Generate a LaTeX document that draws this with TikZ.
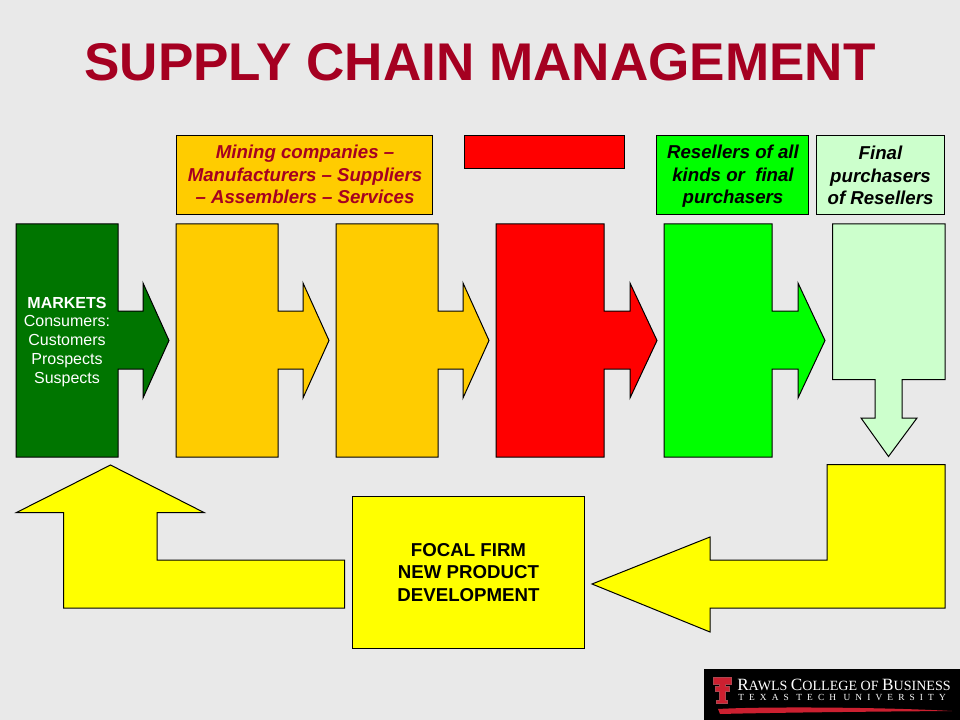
\documentclass[tikz,border=0pt]{standalone}
\usepackage{fontspec}
\setmainfont{Liberation Sans}
\newfontfamily\logofont{Liberation Serif}
\definecolor{slidegray}{HTML}{E9E9E9}
\definecolor{titlered}{HTML}{A50021}
\definecolor{darkgreen}{HTML}{007500}
\definecolor{amber}{HTML}{FFCC00}
\definecolor{palegreen}{HTML}{CCFFCC}
\definecolor{brightyellow}{HTML}{FFFF00}
\definecolor{brightred}{HTML}{FF0000}
\definecolor{brightgreen}{HTML}{00FF00}
\definecolor{logored}{HTML}{CC2030}
\tikzset{
    outline/.style={draw=black, line width=0.75pt, line join=miter},
    boxtext/.style={align=center, font=\fontsize{14}{16.9}\selectfont\bfseries\itshape, inner sep=0pt},
    smalltext/.style={align=center, white, font=\fontsize{12}{14.2}\selectfont, inner sep=0pt},
    focaltext/.style={align=center, font=\fontsize{14}{16.9}\selectfont\bfseries, inner sep=0pt}
}
\begin{document}
\begin{tikzpicture}[x=0.75pt, y=-0.75pt]
\useasboundingbox (0,0) rectangle (960,720);
\fill [slidegray] (0,0) rectangle (960,720);

% --- title ---
\node [titlered, inner sep=0pt, font=\fontsize{39.8}{46}\selectfont\bfseries] (title) at (480,62) {SUPPLY CHAIN MANAGEMENT};

% --- label boxes ---
\draw [outline, fill=amber] (176,136) rectangle (432.5,214.5);
\node [boxtext, titlered] (mining) at (305,174.5) {Mining companies --\\Manufacturers -- Suppliers\\-- Assemblers -- Services};
\draw [outline, fill=brightred] (464,136) rectangle (624.5,168.5);
\draw [outline, fill=brightgreen] (656,136) rectangle (808.5,214.5);
\node [boxtext] (resellers) at (733,176.5) {Resellers of all\\kinds or\ \ final\\purchasers};
\draw [outline, fill=palegreen] (816.5,136) rectangle (944.5,214.5);
\node [boxtext] (final) at (880.5,175.5) {Final\\purchasers\\of Resellers};

% --- block arrows of the chain ---
\foreach \xa/\xb/\xh/\xt/\col in {16/118/143/169/darkgreen, 176/278/303/329/amber, 336/438/463/489/amber, 496/604/630/657/brightred, 664/772/798/825/brightgreen} {
    \draw [outline, fill=\col] (\xa,224) -- (\xb,224) -- (\xb,311) -- (\xh,311) -- (\xh,283) -- (\xt,340.5)
        -- (\xh,398) -- (\xh,369) -- (\xb,369) -- (\xb,457) -- (\xa,457) -- cycle;
}
\node [smalltext] (markets) at (67,342) {\textbf{MARKETS}\\Consumers:\\Customers\\Prospects\\Suspects};

% --- arrow going down ---
\draw [outline, fill=palegreen] (832.5,224) -- (945,224) -- (945,379.5) -- (902,379.5) -- (902,418) -- (917,418)
    -- (888.5,456.5) -- (861,418) -- (875,418) -- (875,379.5) -- (832.5,379.5) -- cycle;

% --- yellow return arrows ---
\draw [outline, fill=brightyellow] (827,464.5) -- (945,464.5) -- (945,608) -- (710,608) -- (710,632) -- (592,584)
    -- (710,537) -- (710,560) -- (827,560) -- cycle;
\draw [outline, fill=brightyellow] (344.5,560) -- (344.5,608) -- (63.5,608) -- (63.5,512.5) -- (16.5,512.5)
    -- (110.5,465) -- (204,512.5) -- (157,512.5) -- (157,560) -- cycle;
\draw [outline, fill=brightyellow] (352.5,496.5) rectangle (584.5,648.5);
\node [focaltext] (focal) at (468.5,572.5) {FOCAL FIRM\\NEW PRODUCT\\DEVELOPMENT};

% --- college logo ---
\fill [black] (704,669) rectangle (960,720);
\draw [logored!60!gray, line width=0.3pt, fill=logored] (713,677.5) -- (731,677.5) -- (731,684) -- (725,684) -- (725,686) -- (729,686) -- (729,691) -- (725,691)
    -- (725,700) -- (727.5,700) -- (727.5,703) -- (716.5,703) -- (716.5,700) -- (719,700) -- (719,691) -- (715,691) -- (715,686)
    -- (719,686) -- (719,684) -- (713,684) -- cycle;
\fill [logored] (718,709) .. controls (760,706.5) and (880,707) .. (952,711) .. controls (880,711.5) and (780,712.5) .. (720,714) -- cycle;
\node [white, anchor=west, inner sep=0pt, font=\logofont] (college) at (737,684.5)
    {\fontsize{12.9}{14}\selectfont R\fontsize{10.55}{14}\selectfont AWLS \fontsize{12.9}{14}\selectfont C\fontsize{10.55}{14}\selectfont OLLEGE OF \fontsize{12.9}{14}\selectfont B\fontsize{10.55}{14}\selectfont USINESS};
\node [white, anchor=west, inner sep=0pt, font=\logofont\fontsize{7}{8}\selectfont\addfontfeature{LetterSpace=55}] (university) at (738,697.5) {TEXAS TECH UNIVERSITY};
\end{tikzpicture}
\end{document}
